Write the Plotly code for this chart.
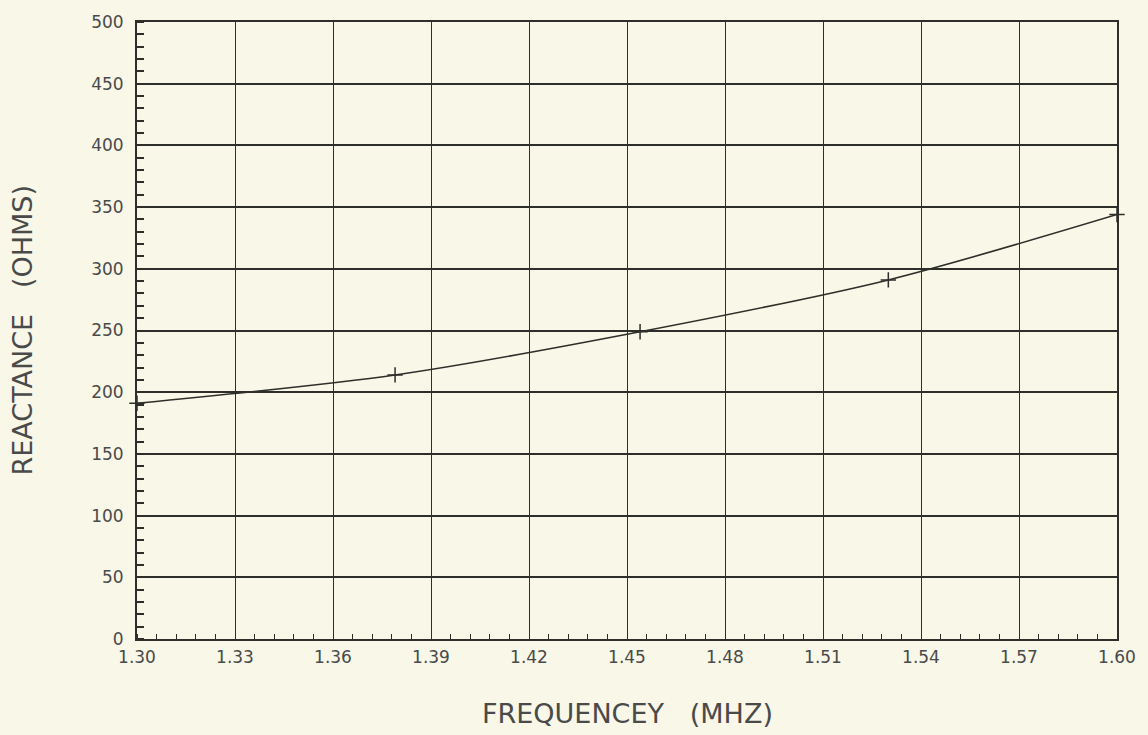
import plotly.graph_objects as go

# measured points (the "+" markers)
freq = [1.30, 1.379, 1.454, 1.53, 1.60]
reactance = [191, 214, 249, 291, 344]

x_ticks = [1.30, 1.33, 1.36, 1.39, 1.42, 1.45, 1.48, 1.51, 1.54, 1.57, 1.60]
x_labels = ["1.30", "1.33", "1.36", "1.39", "1.42", "1.45", "1.48", "1.51", "1.54", "1.57", "1.60"]
y_ticks = [0, 50, 100, 150, 200, 250, 300, 350, 400, 450, 500]

ink = "#2e2e2a"
text_col = "#4a4a4a"
paper = "#f8f7e8"
font_name = "DejaVu Sans"

fig = go.Figure()

fig.add_trace(go.Scatter(
    x=freq,
    y=reactance,
    mode="lines+markers",
    line=dict(color=ink, width=1.6, shape="spline", smoothing=0.8),
    marker=dict(symbol="cross-thin", size=11, line=dict(width=1.5, color=ink)),
    showlegend=False,
    cliponaxis=False,
    hoverinfo="skip",
))

fig.update_layout(
    width=1148,
    height=735,
    paper_bgcolor=paper,
    plot_bgcolor=paper,
    margin=dict(l=137, r=30, t=15, b=96),
    font=dict(family=font_name, color=text_col),
    xaxis=dict(
        range=[1.30, 1.60],
        tickvals=x_ticks,
        ticktext=x_labels,
        tickfont=dict(size=17, color=text_col),
        ticks="",
        ticklabelstandoff=2,
        showgrid=True,
        gridcolor=ink,
        gridwidth=1.3,
        zeroline=False,
        showline=True,
        linecolor=ink,
        linewidth=2,
        mirror=True,
        minor=dict(dtick=0.006, tick0=1.30, ticks="inside", ticklen=5,
                   tickcolor=ink, tickwidth=1, showgrid=False),
    ),
    yaxis=dict(
        range=[0, 500],
        tickvals=y_ticks,
        tickfont=dict(size=17, color=text_col),
        ticks="",
        ticklabelstandoff=8,
        showgrid=True,
        gridcolor=ink,
        gridwidth=1.6,
        zeroline=False,
        showline=True,
        linecolor=ink,
        linewidth=2,
        mirror=True,
        minor=dict(dtick=10, tick0=0, ticks="inside", ticklen=7,
                   tickcolor=ink, tickwidth=1.5, showgrid=False),
    ),
    annotations=[
        dict(text="FREQUENCEY   (MHZ)", xref="paper", yref="paper", x=0.5, y=0,
             xanchor="center", yanchor="middle", yshift=-74, showarrow=False,
             font=dict(size=27, color=text_col, family=font_name)),
        dict(text="REACTANCE   (OHMS)", xref="paper", yref="paper", x=0, y=0.5,
             xanchor="center", yanchor="middle", xshift=-115, textangle=-90,
             showarrow=False, font=dict(size=27, color=text_col, family=font_name)),
    ],
)

fig.write_html("out.html", config={"displayModeBar": False},
               post_script="document.body.style.margin='0';")
